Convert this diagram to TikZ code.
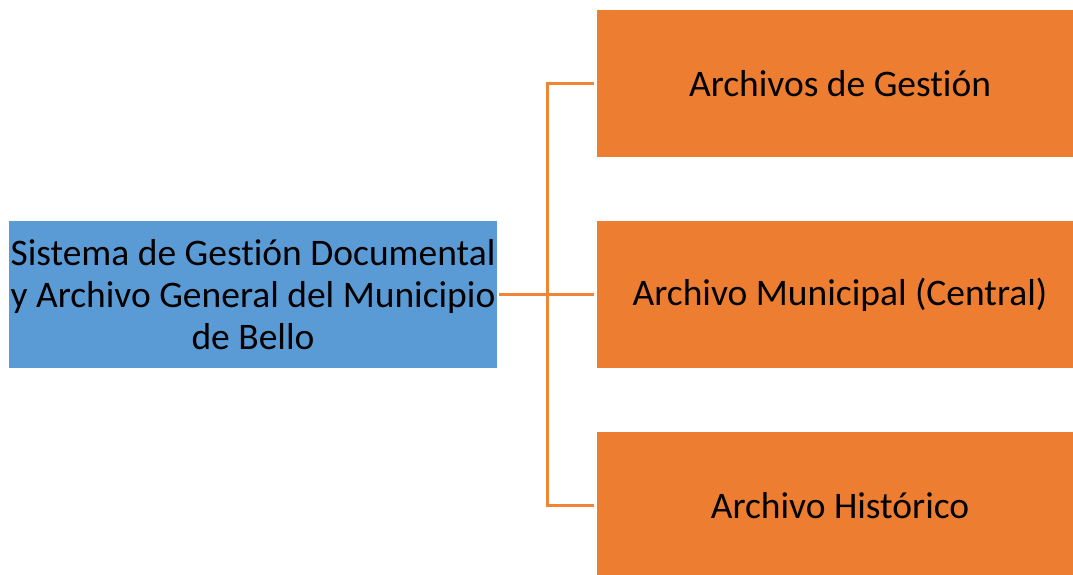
\documentclass[tikz,border=0pt]{standalone}
\usepackage{fontspec}
\setmainfont{Carlito}[Ligatures=NoCommon]
\definecolor{blueb}{HTML}{5B9BD5}
\definecolor{orangeb}{HTML}{ED7D31}
\definecolor{lineo}{HTML}{F08535}
\begin{document}
\begin{tikzpicture}[x=1pt,y=-1pt,
  bluebox/.style={fill=blueb,draw=none,minimum width=488pt,minimum height=147pt,inner sep=0pt,align=center,font=\fontsize{37.5}{42}\selectfont},
  orangebox/.style={fill=orangeb,draw=none,minimum width=486pt,minimum height=147pt,inner sep=0pt},
  boxtext/.style={font=\fontsize{37.5}{42}\selectfont,inner sep=0pt},
  conn/.style={draw=lineo,line width=3pt}]
\useasboundingbox (0,0) rectangle (1073,575);
\begin{scope}
\clip (0,0) rectangle (1073,575);
\node[bluebox] (root) at (253,294.5) {Sistema de Gestión Documental\\y Archivo General del Municipio\\de Bello};
\node[orangebox] (a) at (840,83.5) {};
\node[orangebox] (b) at (840,294.5) {};
\node[orangebox] (c) at (840,505.5) {};
\node[boxtext] (ta) at (a.center) {Archivos de Gestión};
\node[boxtext] (tb) at (b.center) {Archivo Municipal (Central)};
\node[boxtext] (tc) at (c.center) {Archivo Histórico};
\coordinate (j) at (547,294.5);
\draw[conn] (root.east) ++(2,0) -- ([xshift=-3pt]b.west);
\draw[conn] ([xshift=-3pt]a.west) -| (j) |- ([xshift=-3pt]c.west);
\end{scope}
\end{tikzpicture}
\end{document}
